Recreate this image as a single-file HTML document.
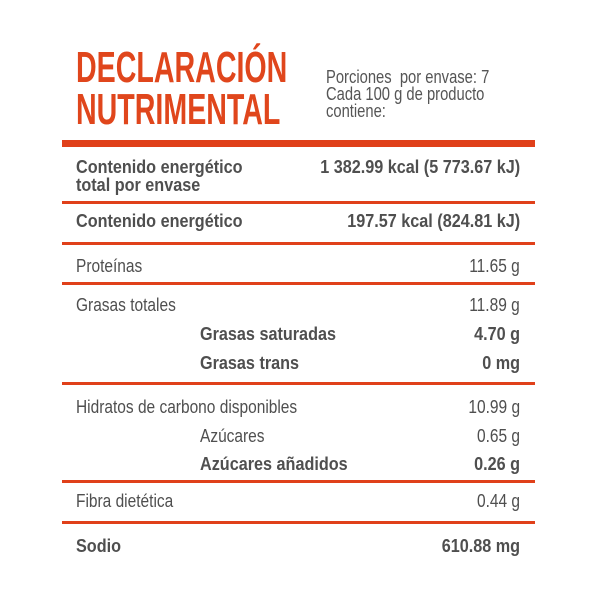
<!DOCTYPE html>
<html><head><meta charset="utf-8"><style>
html,body{margin:0;padding:0;background:#fff;}
body{width:600px;height:600px;position:relative;overflow:hidden;font-family:"Liberation Sans",sans-serif;color:#4f4f4f;}
.t{position:absolute;white-space:nowrap;font-size:18px;line-height:18px;transform:scaleX(0.86);transform-origin:left center;}
.r{transform-origin:right center;text-align:right;}
.b{font-weight:bold;transform:scaleX(0.9);}
.ln{position:absolute;left:62px;width:473px;height:3px;background:#e0401a;}
.h{position:absolute;left:76px;font-weight:bold;font-size:44px;line-height:44px;color:#e0461c;transform:scaleX(0.65);transform-origin:left center;white-space:nowrap;}
.s{position:absolute;left:326px;font-size:18px;line-height:17px;color:#555;transform:scaleX(0.82);transform-origin:left center;white-space:nowrap;}
</style></head><body>
<div class="h" style="top:46px">DECLARACIÓN</div>
<div class="h" style="top:88px">NUTRIMENTAL</div>
<div class="s" style="top:69px">Porciones&nbsp; por envase: 7<br>Cada 100 g de producto<br>contiene:</div>
<div class="ln" style="top:140px;height:7px"></div>
<div class="t b" style="left:76px;top:158px">Contenido energético</div>
<div class="t b" style="left:76px;top:176px">total por envase</div>
<div class="t b r" style="right:80px;top:158px">1 382.99 kcal (5 773.67 kJ)</div>
<div class="ln" style="top:201px"></div>
<div class="t b" style="left:76px;top:212px">Contenido energético</div>
<div class="t b r" style="right:80px;top:212px">197.57 kcal (824.81 kJ)</div>
<div class="ln" style="top:242px"></div>
<div class="t" style="left:76px;top:257px">Proteínas</div>
<div class="t r" style="right:80px;top:257px">11.65 g</div>
<div class="ln" style="top:282px"></div>
<div class="t" style="left:76px;top:296px">Grasas totales</div>
<div class="t r" style="right:80px;top:296px">11.89 g</div>
<div class="t b" style="left:200px;top:325px">Grasas saturadas</div>
<div class="t b r" style="right:80px;top:325px">4.70 g</div>
<div class="t b" style="left:200px;top:354px">Grasas trans</div>
<div class="t b r" style="right:80px;top:354px">0 mg</div>
<div class="ln" style="top:382px"></div>
<div class="t" style="left:76px;top:398px">Hidratos de carbono disponibles</div>
<div class="t r" style="right:80px;top:398px">10.99 g</div>
<div class="t" style="left:200px;top:427px">Azúcares</div>
<div class="t r" style="right:80px;top:427px">0.65 g</div>
<div class="t b" style="left:200px;top:455px">Azúcares añadidos</div>
<div class="t b r" style="right:80px;top:455px">0.26 g</div>
<div class="ln" style="top:480px"></div>
<div class="t" style="left:76px;top:492px">Fibra dietética</div>
<div class="t r" style="right:80px;top:492px">0.44 g</div>
<div class="ln" style="top:521px"></div>
<div class="t b" style="left:76px;top:537px">Sodio</div>
<div class="t b r" style="right:80px;top:537px">610.88 mg</div>
</body></html>
